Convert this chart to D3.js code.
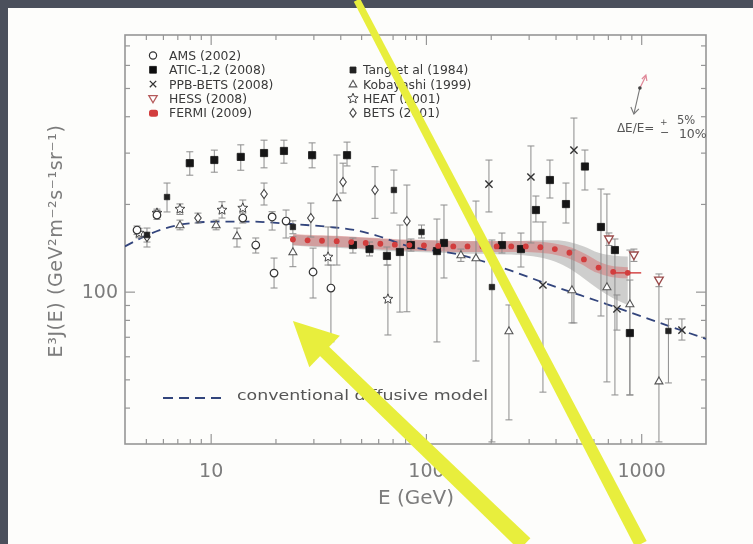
<!DOCTYPE html>
<html>
<head>
<meta charset="utf-8">
<script src="https://cdn.jsdelivr.net/npm/d3@7"></script>
<style>
  html, body { margin: 0; padding: 0; background: #4b505c; }
  svg { display: block; }
  text { font-family: "DejaVu Sans", "Liberation Sans", sans-serif; }
</style>
</head>
<body>
<svg id="chart" width="753" height="544"></svg>
<script>
// ---------- axes ----------
const xDomain = [4, 2000];
const yDomain = [30, 760];
const xMajor = [10, 100, 1000];
const xMajorLabels = ["10", "100", "1000"];
const xMinor = [5, 6, 7, 8, 9, 20, 30, 40, 50, 60, 70, 80, 90, 200, 300, 400, 500, 600, 700, 800, 900];
const yMajor = [100];
const yMajorLabels = ["100"];
const yMinor = [40, 50, 60, 70, 80, 90, 200, 300, 400, 500, 600, 700];
const xTitle = "E (GeV)";
const yTitle = "E³J(E) (GeV²m⁻²s⁻¹sr⁻¹)";

// ---------- measurements: energy (GeV), E^3 J, error low, error high ----------
const amsE  = [4.55, 5.63, 14.1, 16.2, 19.3, 19.7, 22.4, 29.9, 36.2];
const amsV  = [162.7, 183.2, 178.9, 144.5, 180.4, 115.8, 174.7, 116.8, 102.9];
const amsLo = [157, 177, 172, 135.7, 162.7, 102.9, 152.8, 95.1, 67.3];
const amsHi = [168, 190, 186, 152.8, 188.1, 130.4, 190.6, 141.1, 123.4];

const aticE  = [8.0, 10.4, 13.8, 17.7, 21.9, 29.6, 43.0, 45.8, 54.7, 65.9, 75.7, 85.2, 112.5, 121.3, 225.5, 276.3, 324.3, 376.7, 447.2, 547.8, 650.2, 755, 886];
const aticV  = [276, 283, 290, 299, 304, 294, 294, 144.5, 140, 132.6, 136.8, 144.5, 137.8, 146.9, 144.5, 140, 190.6, 241.6, 199.8, 268.8, 166.7, 138.9, 72.1];
const aticLo = [251, 257, 261, 266, 276, 266, 270, 135.7, 132.6, 123.4, 85.1, 137.8, 67.2, 111.4, 135.7, 121.5, 173.4, 209.6, 172, 223.3, 82.5, 44.2, 44.2];
const aticHi = [302, 306, 319, 331, 331, 324, 326, 152.8, 148, 142.3, 169.3, 151.6, 177.5, 198.3, 158.9, 158.9, 212.9, 282.9, 235.9, 306.2, 225, 151.6, 138.9];

const ppbE  = [196.2, 307.4, 349.6, 487, 771.5, 1546];
const ppbV  = [234, 247.4, 105.4, 306.2, 87.2, 73.8];
const ppbLo = [187.7, 146.9, 45.2, 78.1, 73.8, 68.2];
const ppbHi = [282.9, 316.2, 173.4, 394.3, 97.4, 80.6];

const hessE  = [708, 925, 1209];
const hessV  = [151.6, 133.6, 109.6];
const hessLo = [144, 127, 104];
const hessHi = [159, 140, 115];

const tangE  = [5.06, 6.27, 24.1, 71, 95.4, 202.6, 1338];
const tangV  = [156.4, 211.2, 166.7, 223.3, 160.2, 103.7, 73.3];
const tangLo = [142.3, 187.7, 158, 186.1, 152.8, 30.5, 48.6];
const tangHi = [165.3, 235.9, 175, 261.4, 169.3, 150.4, 80.6];

const kobE  = [7.2, 10.6, 13.25, 24.1, 38.6, 145.4, 170.8, 243, 476.7, 693, 886, 1209];
const kobV  = [169.3, 169.3, 155.2, 136.8, 209.6, 133.6, 130.4, 73.3, 101.3, 103.7, 90.7, 49.3];
const kobLo = [163, 163, 142.3, 121.8, 123.4, 127, 57.8, 36.3, 78.1, 49, 44.2, 30.5];
const kobHi = [176, 176, 165.3, 154.3, 294.4, 140, 204.6, 90, 138.9, 216.3, 109.6, 111.4];

const heatE  = [4.65, 5.63, 7.2, 11.29, 14.1, 35.1, 66.6];
const heatV  = [158.9, 186.1, 192.1, 190.6, 193.6, 131.5, 94.3];
const heatLo = [153, 180, 184, 178.9, 181.7, 123.4, 71];
const heatHi = [165, 192, 200, 203.5, 206.3, 166.7, 123.4];

const betsE  = [5.06, 8.73, 17.7, 29.2, 41.2, 58, 81.6];
const betsV  = [154, 178.9, 216.3, 178.9, 237.8, 223.3, 174.7];
const betsLo = [148, 172, 198.3, 154, 218, 178.5, 85.3];
const betsHi = [160, 186, 235.9, 201.4, 276, 268.4, 232.2];

// Fermi LAT spectrum with its systematic band
const fermiE = [24.1, 28.2, 32.9, 38.5, 45.0, 52.5, 61.4, 71.7, 83.8, 97.9, 114, 134, 156, 183, 213, 249, 291, 340, 397, 464, 542, 634, 741, 866];
const fermiV = [151, 150, 149.5, 149, 148, 147, 146, 145, 144.5, 144, 143.5, 143, 143, 143, 143, 143, 143, 142, 140, 136, 129, 121, 117, 116];
const fermiSysLo = [144, 143, 142, 141.5, 140.5, 139.5, 138.5, 137.5, 137, 136.5, 136, 135.5, 135, 135, 134.5, 134, 133, 131, 127, 120, 111, 102, 95, 90];
const fermiSysHi = [157, 156, 155.5, 155, 154, 153, 152, 151, 150.5, 150, 149.5, 149, 149, 149, 149, 149, 149.5, 150, 150, 148, 143, 136, 133, 132];
const fermiLastBin = [752, 1000];

// conventional diffusive model
const modelE = [4.0, 4.95, 5.8, 7.6, 10.5, 15.7, 23.4, 35.8, 46.8, 58, 82.5, 145, 254, 357, 700, 1052, 1389, 2000];
const modelV = [143, 155, 162.6, 170.7, 173.8, 173.8, 170.7, 166.7, 162.6, 156.4, 143.4, 133.6, 117.3, 107, 90.3, 81.2, 75.6, 68.8];

const legendLeft  = ["AMS (2002)", "ATIC-1,2 (2008)", "PPB-BETS (2008)", "HESS (2008)", "FERMI (2009)"];
const legendRight = ["Tang et al (1984)", "Kobayashi (1999)", "HEAT (2001)", "BETS (2001)"];
const modelLabel = "conventional diffusive model";

// energy-scale annotation anchor (E, E^3 J)
const scaleNoteAnchor = [986, 500];

// highlight pointers: [E, value] endpoints
const pointerA = { from: [47.8, 1002], to: [997, 13.6] };
const pointerB = { from: [288, 13.6], to: [24.1, 79.3] };

// ---------- drawing ----------
const svg = d3.select("#chart");
const frame = { l: 125, r: 706, t: 35, b: 444 };
const x = d3.scaleLog().domain(xDomain).range([frame.l, frame.r]);
const y = d3.scaleLog().domain(yDomain).range([frame.b, frame.t]);

const defs = svg.append("defs");
defs.append("filter").attr("id", "soft")
  .attr("x", "-5%").attr("y", "-5%").attr("width", "110%").attr("height", "110%")
  .append("feGaussianBlur").attr("stdDeviation", 0.6);
defs.append("clipPath").attr("id", "plotClip").append("rect")
  .attr("x", frame.l).attr("y", frame.t)
  .attr("width", frame.r - frame.l).attr("height", frame.b - frame.t);

svg.append("rect").attr("width", 753).attr("height", 544).attr("fill", "#4b505c");
const root = svg.append("g").attr("filter", "url(#soft)");
root.append("rect").attr("x", 8).attr("y", 8).attr("width", 745).attr("height", 536).attr("fill", "#fdfdfb");

const axisColor = "#969696";
const labelColor = "#7c7c7c";

// frame
root.append("rect")
  .attr("x", frame.l).attr("y", frame.t)
  .attr("width", frame.r - frame.l).attr("height", frame.b - frame.t)
  .attr("fill", "none").attr("stroke", axisColor).attr("stroke-width", 1.6);

function styleAxis(g) {
  g.select(".domain").remove();
  g.selectAll(".tick line").attr("stroke", axisColor).attr("stroke-width", 1.2);
  g.selectAll(".tick text").attr("fill", labelColor).attr("font-size", 19)
    .style("font-family", "'DejaVu Sans', sans-serif");
}

// bottom
root.append("g").attr("transform", `translate(0,${frame.b})`)
  .call(d3.axisBottom(x).tickValues(xMajor).tickSize(-10).tickPadding(20)
    .tickFormat((d, i) => xMajorLabels[i]))
  .call(styleAxis);
root.append("g").attr("transform", `translate(0,${frame.b})`)
  .call(d3.axisBottom(x).tickValues(xMinor).tickSize(-5).tickFormat(""))
  .call(styleAxis);
// top
root.append("g").attr("transform", `translate(0,${frame.t})`)
  .call(d3.axisTop(x).tickValues(xMajor).tickSize(-10).tickFormat(""))
  .call(styleAxis);
root.append("g").attr("transform", `translate(0,${frame.t})`)
  .call(d3.axisTop(x).tickValues(xMinor).tickSize(-5).tickFormat(""))
  .call(styleAxis);
// left
root.append("g").attr("transform", `translate(${frame.l},0)`)
  .call(d3.axisLeft(y).tickValues(yMajor).tickSize(-10).tickPadding(7)
    .tickFormat((d, i) => yMajorLabels[i]))
  .call(styleAxis);
root.append("g").attr("transform", `translate(${frame.l},0)`)
  .call(d3.axisLeft(y).tickValues(yMinor).tickSize(-5).tickFormat(""))
  .call(styleAxis);
// right
root.append("g").attr("transform", `translate(${frame.r},0)`)
  .call(d3.axisRight(y).tickValues(yMajor).tickSize(-10).tickFormat(""))
  .call(styleAxis);
root.append("g").attr("transform", `translate(${frame.r},0)`)
  .call(d3.axisRight(y).tickValues(yMinor).tickSize(-5).tickFormat(""))
  .call(styleAxis);

// axis titles
root.append("text").attr("x", 416).attr("y", 504).attr("text-anchor", "middle")
  .attr("fill", labelColor).attr("font-size", 20).text(xTitle);
root.append("text").attr("transform", "translate(62,241) rotate(-90)")
  .attr("text-anchor", "middle").attr("fill", labelColor).attr("font-size", 19)
  .attr("letter-spacing", 0.6).text(yTitle);

// ---------- plot contents ----------
const plot = root.append("g").attr("clip-path", "url(#plotClip)");

// Fermi systematic band
const sysArea = d3.area()
  .x((d, i) => x(fermiE[i]))
  .y0((d, i) => y(fermiSysLo[i]))
  .y1((d, i) => y(fermiSysHi[i]))
  .curve(d3.curveMonotoneX);
plot.append("path").datum(fermiE).attr("d", sysArea)
  .attr("fill", "rgba(140,140,140,0.42)");

// Fermi statistical band
const fermiLine = d3.line()
  .x((d, i) => x(fermiE[i]))
  .y((d, i) => y(fermiV[i]))
  .curve(d3.curveMonotoneX);
plot.append("path").datum(fermiE).attr("d", fermiLine)
  .attr("fill", "none").attr("stroke", "rgba(214,96,96,0.42)").attr("stroke-width", 11);

// model curve
const modelLine = d3.line()
  .x((d, i) => x(modelE[i]))
  .y((d, i) => y(modelV[i]))
  .curve(d3.curveMonotoneX);
const modelColor = "#33447c";
plot.append("path").datum(modelE).attr("d", modelLine)
  .attr("fill", "none").attr("stroke", modelColor).attr("stroke-width", 1.8)
  .attr("stroke-dasharray", "9,6");

// marker shapes
const shapes = {
  square: s => `M${-s},${-s}h${2 * s}v${2 * s}h${-2 * s}Z`,
  circle: s => `M${s},0A${s},${s} 0 1,1 ${-s},0A${s},${s} 0 1,1 ${s},0Z`,
  cross: s => `M${-s},${-s}L${s},${s}M${-s},${s}L${s},${-s}`,
  tri: s => `M0,${-s}L${s * 0.95},${s * 0.65}L${-s * 0.95},${s * 0.65}Z`,
  triDown: s => `M0,${s}L${s * 0.95},${-s * 0.65}L${-s * 0.95},${-s * 0.65}Z`,
  diamond: s => `M0,${-s}L${s * 0.72},0L0,${s}L${-s * 0.72},0Z`,
  star: s => {
    const pts = [];
    for (let k = 0; k < 10; k++) {
      const r = k % 2 === 0 ? s : s * 0.45;
      const a = -Math.PI / 2 + k * Math.PI / 5;
      pts.push([r * Math.cos(a), r * Math.sin(a)]);
    }
    return "M" + pts.map(p => p.join(",")).join("L") + "Z";
  }
};

const seriesList = [
  { E: kobE, V: kobV, lo: kobLo, hi: kobHi, shape: "tri", size: 4.2, fill: "#fff", stroke: "#555", sw: 1.1 },
  { E: betsE, V: betsV, lo: betsLo, hi: betsHi, shape: "diamond", size: 4.5, fill: "#fff", stroke: "#444", sw: 1.1 },
  { E: heatE, V: heatV, lo: heatLo, hi: heatHi, shape: "star", size: 5.2, fill: "#fff", stroke: "#444", sw: 1.0 },
  { E: amsE, V: amsV, lo: amsLo, hi: amsHi, shape: "circle", size: 3.8, fill: "#fff", stroke: "#333", sw: 1.2 },
  { E: hessE, V: hessV, lo: hessLo, hi: hessHi, shape: "triDown", size: 4.6, fill: "#fff", stroke: "#9a4a4a", sw: 1.3 },
  { E: ppbE, V: ppbV, lo: ppbLo, hi: ppbHi, shape: "cross", size: 3.6, fill: "none", stroke: "#333", sw: 1.4 },
  { E: tangE, V: tangV, lo: tangLo, hi: tangHi, shape: "square", size: 2.7, fill: "#222", stroke: "#222", sw: 0.8 },
  { E: aticE, V: aticV, lo: aticLo, hi: aticHi, shape: "square", size: 3.6, fill: "#151515", stroke: "#151515", sw: 0.8 }
];

// error bars first, markers after
const errG = plot.append("g").attr("stroke", "#8c8c8c").attr("stroke-width", 1);
seriesList.forEach(s => {
  s.E.forEach((e, i) => {
    const cx = x(e), yl = y(s.lo[i]), yh = y(s.hi[i]);
    errG.append("line").attr("x1", cx).attr("x2", cx).attr("y1", yl).attr("y2", yh);
    errG.append("line").attr("x1", cx - 3.5).attr("x2", cx + 3.5).attr("y1", yl).attr("y2", yl);
    errG.append("line").attr("x1", cx - 3.5).attr("x2", cx + 3.5).attr("y1", yh).attr("y2", yh);
  });
});
seriesList.forEach(s => {
  plot.append("g").selectAll("path").data(s.E).join("path")
    .attr("transform", (e, i) => `translate(${x(e)},${y(s.V[i])})`)
    .attr("d", shapes[s.shape](s.size))
    .attr("fill", s.fill).attr("stroke", s.stroke).attr("stroke-width", s.sw);
});

// Fermi points
const fermiRed = "#d23c3c";
plot.append("line")
  .attr("x1", x(fermiLastBin[0])).attr("x2", x(fermiLastBin[1]))
  .attr("y1", y(fermiV[fermiV.length - 1])).attr("y2", y(fermiV[fermiV.length - 1]))
  .attr("stroke", fermiRed).attr("stroke-width", 1.4);
plot.append("g").selectAll("circle").data(fermiE).join("circle")
  .attr("cx", e => x(e)).attr("cy", (e, i) => y(fermiV[i])).attr("r", 2.9)
  .attr("fill", fermiRed);

// ---------- legend ----------
const leg = root.append("g").attr("font-size", 12.4).attr("fill", "#3a3a3a");
const legShapes = ["circle", "square", "cross", "triDown", null];
const legStyle = [
  { size: 3.6, fill: "#fff", stroke: "#333", sw: 1.2 },
  { size: 3.4, fill: "#111", stroke: "#111", sw: 0.8 },
  { size: 3.2, fill: "none", stroke: "#333", sw: 1.3 },
  { size: 4.4, fill: "#fff", stroke: "#b55a5a", sw: 1.3 },
  null
];
legendLeft.forEach((name, i) => {
  const yy = 55.5 + i * 14.3;
  if (legShapes[i]) {
    const st = legStyle[i];
    leg.append("path").attr("transform", `translate(153,${yy})`)
      .attr("d", shapes[legShapes[i]](st.size))
      .attr("fill", st.fill).attr("stroke", st.stroke).attr("stroke-width", st.sw);
  } else {
    leg.append("rect").attr("x", 149).attr("y", yy - 3).attr("width", 9).attr("height", 7)
      .attr("rx", 2.5).attr("fill", fermiRed);
  }
  leg.append("text").attr("x", 169).attr("y", yy + 4.4).text(name);
});
const legShapesR = ["square", "tri", "star", "diamond"];
const legStyleR = [
  { size: 3.0, fill: "#222", stroke: "#222", sw: 0.8 },
  { size: 4.0, fill: "#fff", stroke: "#555", sw: 1.1 },
  { size: 5.4, fill: "#fff", stroke: "#444", sw: 1.0 },
  { size: 4.4, fill: "#fff", stroke: "#444", sw: 1.1 }
];
legendRight.forEach((name, i) => {
  const yy = 70 + i * 14.3;
  const st = legStyleR[i];
  leg.append("path").attr("transform", `translate(353,${yy})`)
    .attr("d", shapes[legShapesR[i]](st.size))
    .attr("fill", st.fill).attr("stroke", st.stroke).attr("stroke-width", st.sw);
  leg.append("text").attr("x", 363).attr("y", yy + 4.4).text(name);
});

// model key
root.append("line").attr("x1", 163).attr("x2", 222).attr("y1", 398).attr("y2", 398)
  .attr("stroke", modelColor).attr("stroke-width", 1.8).attr("stroke-dasharray", "10,6");
root.append("text").attr("x", 237).attr("y", 400).attr("font-size", 14.5)
  .attr("fill", "#555").attr("textLength", 251).attr("lengthAdjust", "spacingAndGlyphs")
  .text(modelLabel);

// ---------- energy-scale annotation ----------
const ax = x(scaleNoteAnchor[0]), ay = y(scaleNoteAnchor[1]);
const note = root.append("g");
note.append("line").attr("x1", ax).attr("y1", ay).attr("x2", ax + 6).attr("y2", ay - 12)
  .attr("stroke", "#e08898").attr("stroke-width", 1.2);
note.append("path").attr("d", `M${ax + 2},${ay - 9}L${ax + 6},${ay - 13}L${ax + 7},${ay - 7}`)
  .attr("fill", "none").attr("stroke", "#e08898").attr("stroke-width", 1.2);
note.append("line").attr("x1", ax).attr("y1", ay).attr("x2", ax - 6).attr("y2", ay + 26)
  .attr("stroke", "#777").attr("stroke-width", 1.1);
note.append("path").attr("d", `M${ax - 9},${ay + 19}L${ax - 6},${ay + 26}L${ax - 1},${ay + 21}`)
  .attr("fill", "none").attr("stroke", "#777").attr("stroke-width", 1.1);
note.append("circle").attr("cx", ax).attr("cy", ay).attr("r", 1.8).attr("fill", "#444");
note.append("text").attr("x", ax - 23).attr("y", ay + 44).attr("font-size", 12).attr("fill", "#555").text("ΔE/E=");
note.append("text").attr("x", ax + 20).attr("y", ay + 37).attr("font-size", 9).attr("fill", "#555").text("+");
note.append("text").attr("x", ax + 20).attr("y", ay + 48).attr("font-size", 11).attr("fill", "#555").text("−");
note.append("text").attr("x", ax + 37).attr("y", ay + 36).attr("font-size", 11.5).attr("fill", "#555").text("5%");
note.append("text").attr("x", ax + 39).attr("y", ay + 50).attr("font-size", 12.5).attr("fill", "#555").text("10%");

// ---------- yellow highlight pointers ----------
const yellow = "#e8ee3c";
function band(p0, p1, w0, w1) {
  const dx = p1[0] - p0[0], dy = p1[1] - p0[1];
  const L = Math.hypot(dx, dy);
  const nx = -dy / L, ny = dx / L;
  return [
    [p0[0] + nx * w0 / 2, p0[1] + ny * w0 / 2],
    [p1[0] + nx * w1 / 2, p1[1] + ny * w1 / 2],
    [p1[0] - nx * w1 / 2, p1[1] - ny * w1 / 2],
    [p0[0] - nx * w0 / 2, p0[1] - ny * w0 / 2]
  ];
}
const poly = pts => "M" + pts.map(p => p.join(",")).join("L") + "Z";

const pa0 = [x(pointerA.from[0]), y(pointerA.from[1])];
const pa1 = [x(pointerA.to[0]), y(pointerA.to[1])];
root.append("path").attr("d", poly(band(pa0, pa1, 7, 13))).attr("fill", yellow);

const pb0 = [x(pointerB.from[0]), y(pointerB.from[1])];
const pb1 = [x(pointerB.to[0]), y(pointerB.to[1])];
{
  const dx = pb1[0] - pb0[0], dy = pb1[1] - pb0[1];
  const L = Math.hypot(dx, dy);
  const ux = dx / L, uy = dy / L, nx = -uy, ny = ux;
  const headLen = 44, headHalf = 22;
  const base = [pb1[0] - ux * headLen, pb1[1] - uy * headLen];
  root.append("path").attr("d", poly(band(pb0, [base[0] + ux * 3, base[1] + uy * 3], 16, 13))).attr("fill", yellow);
  root.append("path").attr("d", poly([
    pb1,
    [base[0] + nx * headHalf, base[1] + ny * headHalf],
    [base[0] - nx * headHalf, base[1] - ny * headHalf]
  ])).attr("fill", yellow);
}
</script>
</body>
</html>
